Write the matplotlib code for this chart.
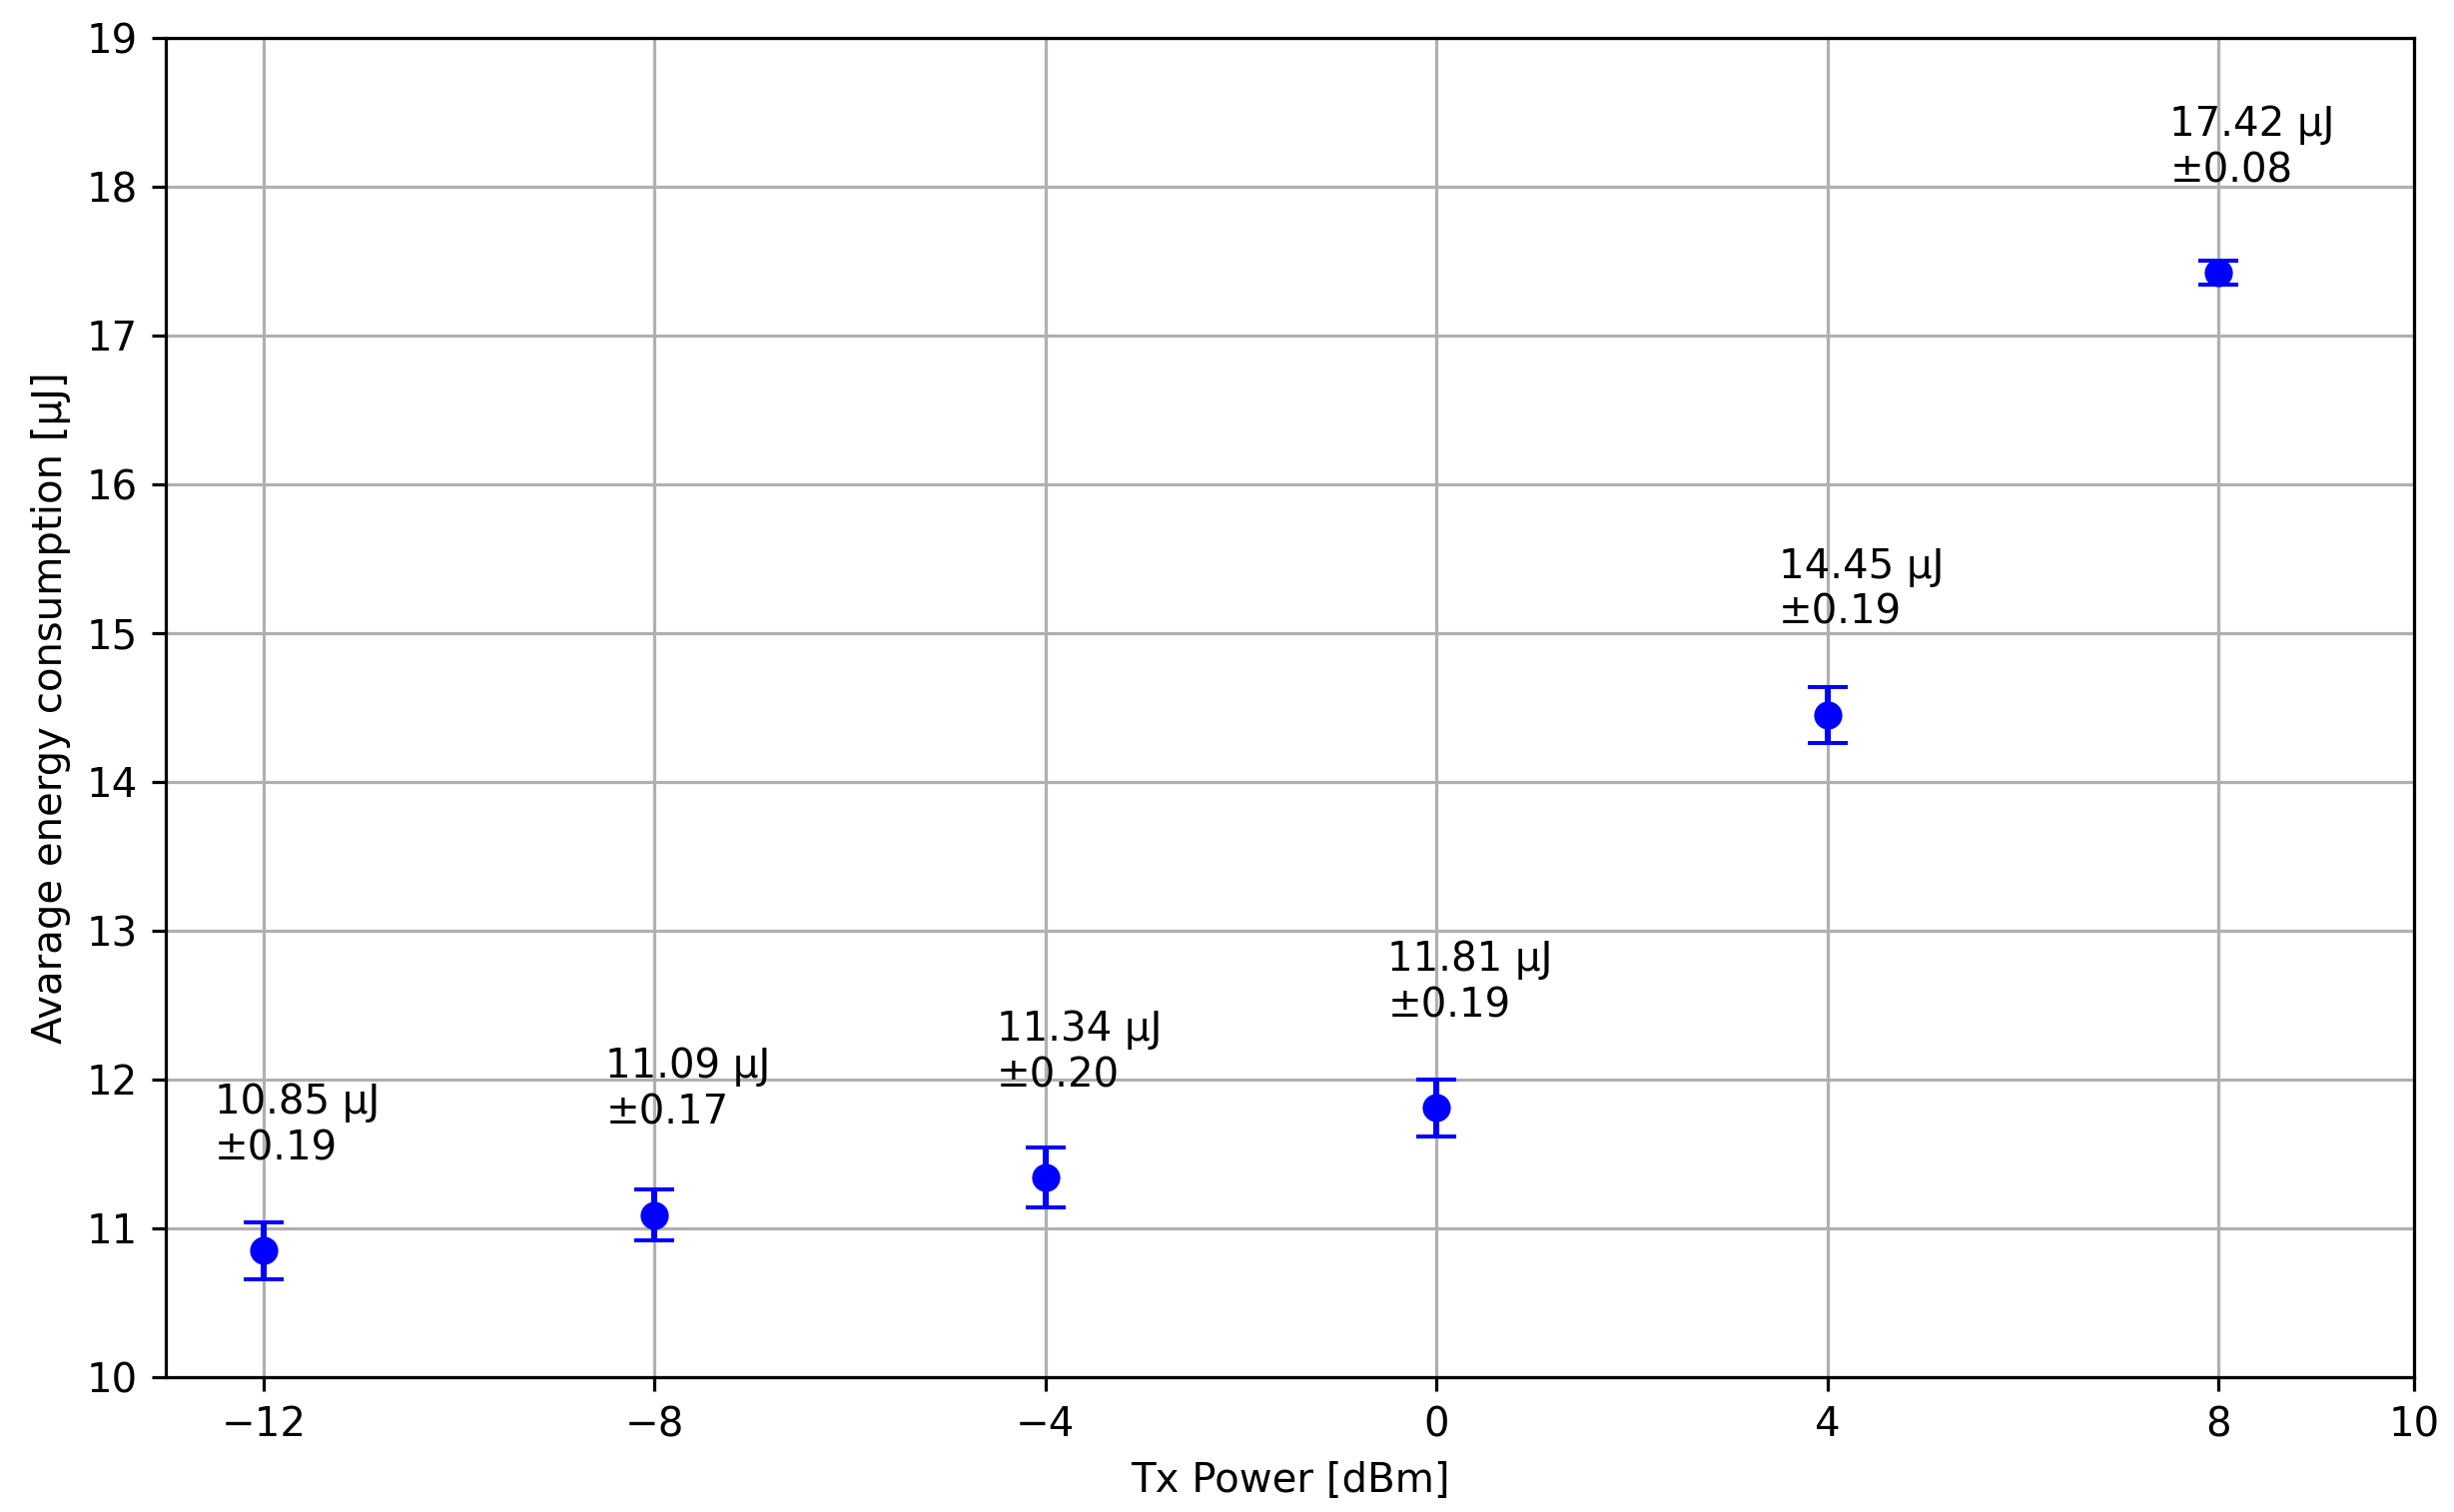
import matplotlib.pyplot as plt
import numpy as np

tx_power = [-12, -8, -4, 0, 4, 8]
energy = [10.85, 11.09, 11.34, 11.81, 14.45, 17.42]
energy_err = [0.19, 0.17, 0.20, 0.19, 0.19, 0.08]
x_ticks = [-12, -8, -4, 0, 4, 8, 10]

if __name__ == "__main__":
    dpi = 290
    fig, ax = plt.subplots(figsize=(2457 / dpi, 1514 / dpi), dpi=dpi)
    fig.subplots_adjust(left=0.0676, right=0.9837, bottom=0.0892, top=0.975)

    ax.errorbar(tx_power, energy, yerr=energy_err, fmt='o', color='blue', capsize=5)

    for x, y, e in zip(tx_power, energy, energy_err):
        ax.text(x - 0.5, y + 0.55, f'{y:.2f} µJ\n±{e:.2f}', va='bottom', ha='left')

    ax.set_xlabel('Tx Power [dBm]')
    ax.set_ylabel('Avarage energy consumption [µJ]')
    ax.set_xlim(-13, 10)
    ax.set_ylim(10, 19)
    ax.set_xticks(x_ticks)
    ax.grid(True)

    fig.savefig('out.png', dpi=dpi)
